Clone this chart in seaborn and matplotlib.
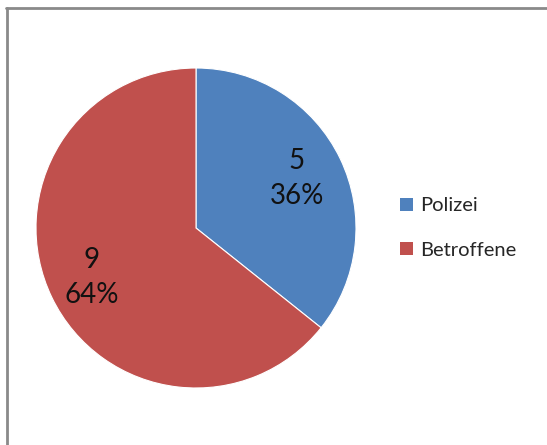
import matplotlib
matplotlib.use("Agg")
import numpy as np
import matplotlib.pyplot as plt
import seaborn as sns
from matplotlib.lines import Line2D
from matplotlib.patches import Patch

# data
categories = ["Polizei", "Betroffene"]
values = [5, 9]
colors = ["#4F81BD", "#C0504D"]

sns.set_theme(style="white")
plt.rcParams['font.family'] = ['Lato', 'DejaVu Sans']

W, H = 547, 445
fig = plt.figure(figsize=(W / 100, H / 100), dpi=100)
fig.patch.set_facecolor("white")

# pie axes: centre (196, 228), radius 160 px
cx, cy, r = 196, 228, 160
ax = fig.add_axes([(cx - r) / W, (H - cy - r) / H, 2 * r / W, 2 * r / H])

total = sum(values)

wedges, texts = ax.pie(
    values,
    colors=colors,
    startangle=90,
    counterclock=False,
    radius=1,
    wedgeprops=dict(edgecolor="white", linewidth=0.8),
)[:2]

# value labels inside the slices
for w, v in zip(wedges, values):
    ang = np.deg2rad((w.theta1 + w.theta2) / 2)
    x, y = 0.71 * np.cos(ang), 0.71 * np.sin(ang)
    ax.text(x - 0.01, y, f"{v}\n{v / total * 100:.0f}%", ha="center", va="center",
            fontsize=20, color="#111111", linespacing=1.45)

ax.set_xlim(-1, 1)
ax.set_ylim(-1, 1)
ax.set_aspect("auto")
ax.axis("off")

# legend
handles = [Patch(facecolor=c, edgecolor="none") for c in colors]
fig.legend(handles, categories, loc="center left",
           bbox_to_anchor=(390 / W, 1 - 228 / H), frameon=False,
           fontsize=14.5, handlelength=0.62, handleheight=0.62,
           handletextpad=0.4, labelspacing=1.35, borderpad=0)

# outer frame (top and left edges visible)
gray = "#8a8a8a"
fig.add_artist(Line2D([6 / W, 1], [1 - 7.5 / H, 1 - 7.5 / H], color=gray, lw=2,
                      transform=fig.transFigure))
fig.add_artist(Line2D([6.5 / W, 6.5 / W], [0, 1 - 7.5 / H], color=gray, lw=2,
                      transform=fig.transFigure))

fig.savefig("out.png", dpi=100)
